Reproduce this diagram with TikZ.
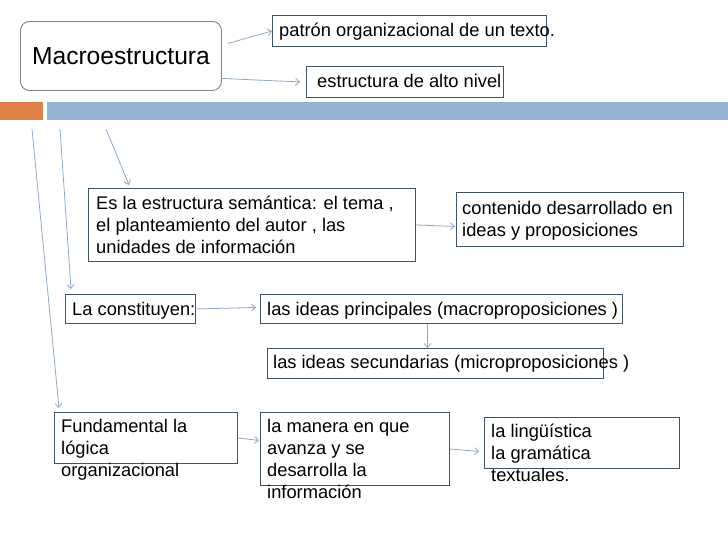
\documentclass[tikz,border=0pt]{standalone}
\usepackage{fontspec}
\setmainfont{Liberation Sans}
\usetikzlibrary{arrows.meta}
\definecolor{boxline}{HTML}{3F5468}
\definecolor{arrowc}{HTML}{8EAAC8}
\definecolor{orangebar}{HTML}{DF8146}
\definecolor{bluebar}{HTML}{95B4D2}
\definecolor{macroline}{HTML}{808080}
\newcommand{\st}{\rule{0pt}{14pt}}
\begin{document}
\begin{tikzpicture}[x=1pt,y=-1pt,
  box/.style={draw=boxline,line width=0.9pt,inner sep=0pt,anchor=north west},
  tx/.style={anchor=north west,inner sep=0pt,align=left,font=\fontsize{18.3}{22}\selectfont},
  arr/.style={draw=arrowc,line width=0.8pt,-{Straight Barb[length=4pt,width=7pt]}},
  ln/.style={draw=arrowc,line width=0.8pt}]
\useasboundingbox (0,0) rectangle (728,546);
\fill[white] (0,0) rectangle (728,546);
% header bar
\fill[orangebar] (0,102) rectangle (42.5,120);
\fill[bluebar] (47,102) rectangle (728,120);
% macro
\node[draw=macroline,line width=0.9pt,rounded corners=9pt,minimum width=201pt,minimum height=69pt,inner sep=0pt,anchor=north west,font=\fontsize{24.6}{28}\selectfont] (macro) at (20,21) {Macroestructura};
% boxes
\node[box,minimum width=274pt,minimum height=31pt] (p) at (272,15) {};
\node[tx] (pt) at (279,22) {\st patrón organizacional de un texto.};
\node[box,minimum width=197pt,minimum height=31pt] (e) at (306,66) {};
\node[tx] (et) at (317,73) {\st estructura de alto nivel};
\node[box,minimum width=327pt,minimum height=73pt] (es) at (88,188) {};
\node[tx] (est) at (96,195) {\st Es la estructura semántica: el tema ,\\el planteamiento del autor , las\\unidades de información};
\node[box,minimum width=227pt,minimum height=54pt] (cont) at (456,192) {};
\node[tx] (contt) at (462,200) {\st contenido desarrollado en\\ideas y proposiciones};
\node[box,minimum width=130pt,minimum height=29pt] (lc) at (65,294) {};
\node[tx] (lct) at (72,301) {\st La constituyen:};
\node[box,minimum width=362pt,minimum height=29pt] (pr) at (260,294) {};
\node[tx] (prt) at (267,301) {\st las ideas principales (macroproposiciones )};
\node[box,minimum width=336pt,minimum height=30pt] (sec) at (267,348) {};
\node[tx] (sect) at (273,354) {\st las ideas secundarias (microproposiciones )};
\node[box,minimum width=183pt,minimum height=51pt] (f) at (54,412) {};
\node[tx] (ft) at (61,418) {\st Fundamental la\\lógica\\organizacional};
\node[box,minimum width=189pt,minimum height=73pt] (m) at (260,412) {};
\node[tx] (mt) at (267,418) {\st la manera en que\\avanza y se\\desarrolla la\\información};
\node[box,minimum width=195pt,minimum height=51pt] (l) at (484,417) {};
\node[tx] (lt) at (491,423) {\st la lingüística\\la gramática\\textuales.};
% free ends
\coordinate (a0) at (32,129);
\coordinate (b0) at (60,129);
\coordinate (c0) at (106,129);
% connectors
\draw[arr] ([xshift=6pt,yshift=12.5pt]macro.east) -- (p.west);
\draw[arr] ([yshift=-22.5pt]macro.east) -- ([xshift=-6pt]e.west);
\draw[arr] (a0) -- ([xshift=5pt,yshift=4pt]f.north west);
\draw[arr] (b0) -- ([xshift=6pt,yshift=5pt]lc.north west);
\draw[arr] (c0) -- ([xshift=41pt,yshift=3pt]es.north west);
\draw[arr] (es.east) -- ([xshift=-1pt,yshift=-7pt]cont.west);
\draw[arr] (lc.east) -- ([xshift=-4pt,yshift=1.5pt]pr.west);
\draw[arr] ([xshift=-14pt]pr.south) -- ([xshift=-14pt]pr.south |- sec.north);
\draw[arr] (f.east) -- ([xshift=-1pt,yshift=8.5pt]m.west);
\draw[arr] (m.east) -- ([xshift=-5pt,yshift=-8.5pt]l.west);
\end{tikzpicture}
\end{document}
